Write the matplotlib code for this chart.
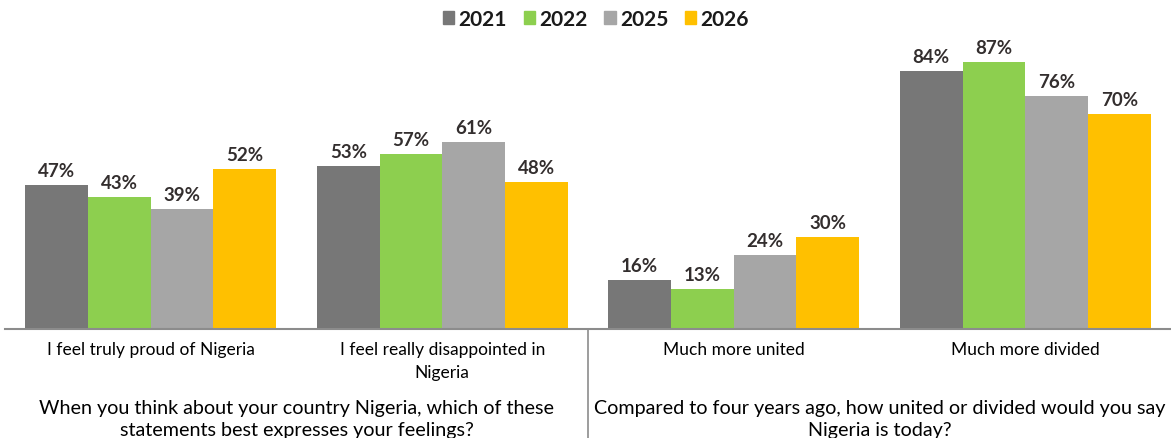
import numpy as np
import matplotlib
matplotlib.use("Agg")
import matplotlib.pyplot as plt
from matplotlib.transforms import blended_transform_factory
from matplotlib.patches import Patch

plt.rcParams['font.family'] = ['Lato', 'DejaVu Sans']

# survey results, % of respondents
categories = ["I feel truly proud of Nigeria",
              "I feel really disappointed in\nNigeria",
              "Much more united",
              "Much more divided"]
years = ["2021", "2022", "2025", "2026"]
v2021 = [47, 53, 16, 84]
v2022 = [43, 57, 13, 87]
v2025 = [39, 61, 24, 76]
v2026 = [52, 48, 30, 70]
questions = ["When you think about your country Nigeria, which of these\nstatements best expresses your feelings?",
             "Compared to four years ago, how united or divided would you say\nNigeria is today?"]

colors = ["#777777", "#8DCF4F", "#A6A6A6", "#FFC000"]
txt = "#332e2e"

fig = plt.figure(figsize=(11.71, 4.39), dpi=100)
ax = fig.add_axes([5/1171, 109/439, 1166/1171, 290/439])

x = np.arange(len(categories))
w = 0.215
series = [v2021, v2022, v2025, v2026]
for i, (vals, c) in enumerate(zip(series, colors)):
    pos = x + (i - 1.5) * w
    ax.bar(pos, vals, width=w, color=c, label=years[i])
    for p, v in zip(pos, vals):
        ax.text(p, v + 2.0, f"{v}%", ha="center", va="bottom",
                fontsize=13.5, fontweight="bold", color=txt)

ax.set_xlim(-0.5, 3.5)
ax.set_ylim(0, 94.5)
ax.set_yticks([])
for s in ["top", "left", "right"]:
    ax.spines[s].set_visible(False)
ax.spines["bottom"].set_color("#8c8c8c")
ax.spines["bottom"].set_linewidth(1.5)
ax.set_xticks(x)
ax.set_xticklabels(categories, fontsize=12.5, color="#000000", linespacing=1.5)
ax.tick_params(axis="x", length=0, pad=9)

# question captions under each pair of groups
tr = blended_transform_factory(ax.transData, ax.transAxes)
for xc, q in zip([0.5, 2.5], questions):
    ax.text(xc, -0.243, q, transform=tr, ha="center", va="top",
            fontsize=14.2, color="#000000", linespacing=1.3)

# separator between the two questions
ax.plot([1.5, 1.5], [0, -0.4], transform=tr, color="#8c8c8c", lw=1.2, clip_on=False)

handles = [Patch(color=c, label=y) for c, y in zip(colors, years)]
fig.legend(handles=handles, loc="center", bbox_to_anchor=(596/1171, 1 - 20/439),
           ncol=4, frameon=False, handlelength=0.55, handleheight=0.55,
           handletextpad=0.2, columnspacing=0.8,
           prop={"size": 15, "weight": "bold"}, labelcolor="#1a1a1a")

fig.savefig("out.png", dpi=100)
